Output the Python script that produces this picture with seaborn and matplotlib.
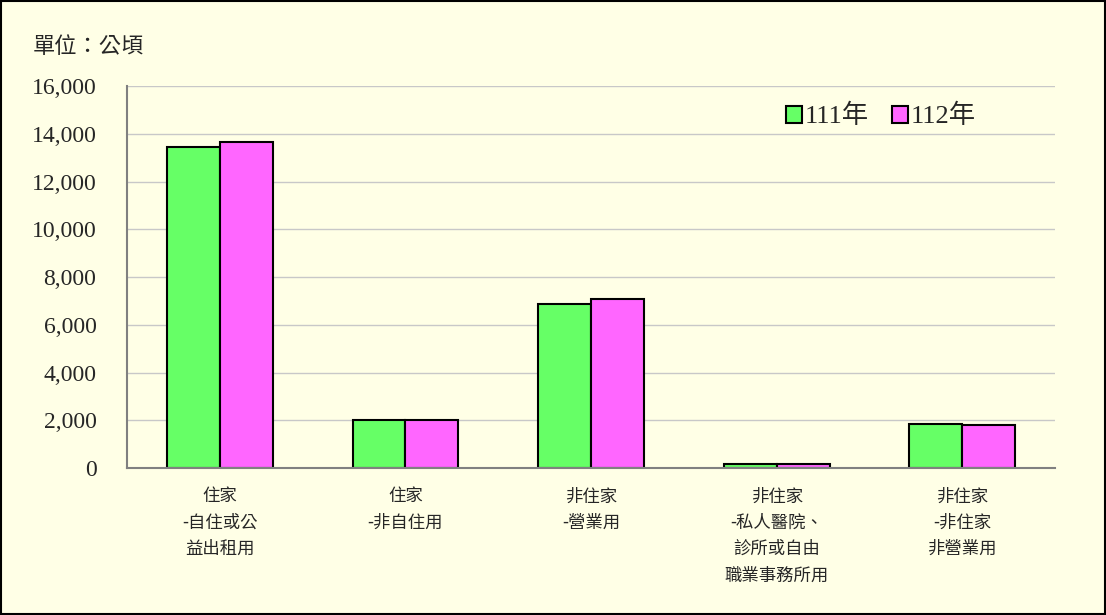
import pandas as pd
import seaborn as sns
import matplotlib.pyplot as plt
from matplotlib.ticker import FuncFormatter, MultipleLocator
from matplotlib.patches import Rectangle

categories = ['住家\n-自住或公\n益出租用', '住家\n-非自住用', '非住家\n-營業用',
              '非住家\n-私人醫院、\n診所或自由\n職業事務所用', '非住家\n-非住家\n非營業用']
y111 = [13440, 2010, 6870, 170, 1840]
y112 = [13650, 2000, 7080, 165, 1800]
years = ['111年', '112年']

df = pd.DataFrame({'cat': categories * 2,
                   'year': [years[0]] * 5 + [years[1]] * 5,
                   'area': y111 + y112})

bg = '#FFFFE6'
sns.set_style('white')
plt.rcParams['font.family'] = ['Liberation Serif', 'Noto Sans CJK TC']

fig = plt.figure(figsize=(11.06, 6.15), dpi=100, facecolor=bg)
ax = fig.add_axes([0.1148, 0.239, 0.8392, 0.621])
ax.set_facecolor(bg)

sns.barplot(data=df, x='cat', y='area', hue='year', palette=['#66FF66', '#FF66FF'],
            saturation=1, width=0.57, edgecolor='black', linewidth=1.5, ax=ax, legend=False)

ax.set_ylim(0, 16000)
ax.set_xlim(-0.5, 4.5)
ax.yaxis.set_major_locator(MultipleLocator(2000))
ax.yaxis.set_major_formatter(FuncFormatter(lambda v, p: f'{int(v):,}'))
ax.grid(axis='y', color='#C8C8C8', linewidth=1)
ax.set_axisbelow(True)
for s in ['top', 'right']:
    ax.spines[s].set_visible(False)
for s in ['left', 'bottom']:
    ax.spines[s].set_color('#808080')
    ax.spines[s].set_linewidth(1.5)

ax.set_xticks([i + 0.5 for i in range(-1, 5)], minor=False)
ax.set_xticklabels([])
ax.set_xticks(range(5), minor=True)
ax.set_xticklabels(categories, minor=True, family=['Noto Sans CJK TC'], fontsize=12.5,
                   linespacing=1.6, va='top')
ax.tick_params(axis='x', which='major', length=7, color='#808080', width=1.2, direction='out')
ax.tick_params(axis='x', which='minor', length=0, pad=14)
ax.tick_params(axis='y', length=7, color='#808080', width=1.2, labelsize=17, pad=15)
ax.set_xlabel('')
ax.set_ylabel('')

handles = [Rectangle((0, 0), 1, 1, facecolor=c, edgecolor='black', linewidth=1.5)
           for c in ['#66FF66', '#FF66FF']]
ax.legend(handles, years, loc='upper right', bbox_to_anchor=(0.94, 1.015), ncol=2,
          frameon=False, handlelength=0.6, handleheight=0.6,
          handletextpad=0.1, columnspacing=0.9,
          prop={'family': ['Liberation Serif', 'Noto Sans CJK TC'], 'size': 19})

fig.text(0.03, 0.925, '單位：公頃', family=['Noto Sans CJK TC'], fontsize=16, va='center')
fig.patches.append(Rectangle((0.001, 0.001), 0.998, 0.997, transform=fig.transFigure,
                             fill=False, edgecolor='black', linewidth=1.5))

fig.savefig('out.png', dpi=100, facecolor=bg)
